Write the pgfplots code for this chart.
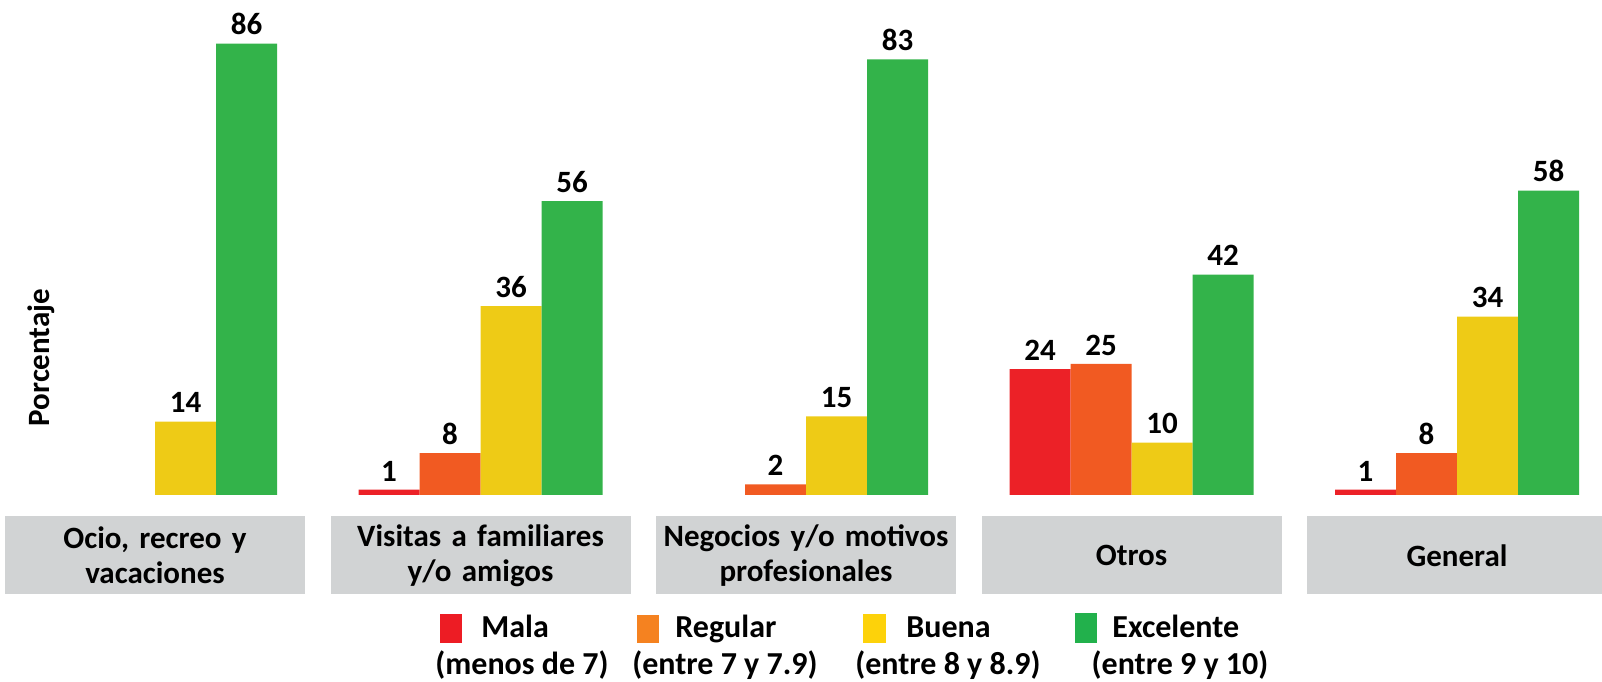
\documentclass[border=0pt]{standalone}
\usepackage{fontspec}
\setmainfont{Carlito}
\usepackage{pgfplots}
\pgfplotsset{compat=1.18}
\definecolor{cMala}{RGB}{236,33,39}
\definecolor{cRegular}{RGB}{241,90,34}
\definecolor{cBuena}{RGB}{238,203,22}
\definecolor{cExcelente}{RGB}{51,179,74}
\definecolor{lMala}{RGB}{237,28,36}
\definecolor{lRegular}{RGB}{245,130,32}
\definecolor{lBuena}{RGB}{253,210,10}
\definecolor{lExcelente}{RGB}{34,177,76}
\definecolor{boxgray}{RGB}{209,211,212}
\begin{document}
\begin{tikzpicture}
\begin{axis}[
  at={(0pt,0pt)}, anchor=north west,
  scale only axis, width=801pt, height=247.5pt,
  xmin=-0.4762, xmax=4.4455, ymin=0, ymax=94.29,
  ybar, bar width=30.5pt,
  axis line style={draw=none},
  ytick=\empty,
  xtick={0,1,2,3,4},
  xticklabels={{Ocio, recreo y\\vacaciones},{Visitas a familiares\\y/o amigos},{Negocios y/o motivos\\profesionales},{Otros},{General}},
  major tick length=0pt,
  xticklabel style={fill=boxgray, text width=150pt, minimum height=39pt, align=center, inner sep=0pt, anchor=north, yshift=-10.5pt, font=\bfseries\fontsize{15.5}{17.5}\selectfont},
  /pgf/number format/assume math mode=true,
  nodes near coords,
  every node near coord/.append style={font=\bfseries\fontsize{15.5}{18}\selectfont, anchor=base, yshift=4.3pt, text=black},
  clip=false,
]
\addplot[fill=cMala, draw=none, bar shift=-45.75pt] coordinates {(1,1) (3,24) (4,1)};
\addplot[fill=cRegular, draw=none, bar shift=-15.25pt] coordinates {(1,8) (2,2) (3,25) (4,8)};
\addplot[fill=cBuena, draw=none, bar shift=15.25pt] coordinates {(0,14) (1,36) (2,15) (3,10) (4,34)};
\addplot[fill=cExcelente, draw=none, bar shift=45.75pt] coordinates {(0,86) (1,56) (2,83) (3,42) (4,58)};
\end{axis}
\begin{scope}[x=0.5pt, y=-0.5pt, font=\bfseries\fontsize{16}{19}\selectfont]
  \node[rotate=90, anchor=base, font=\bfseries\fontsize{15.5}{18}\selectfont] at (49,357.5) {Porcentaje};
  \fill[lMala] (440,614) rectangle (462,643);
  \node[anchor=base west, inner sep=0pt] at (481,637) {Mala};
  \node[anchor=base, inner sep=0pt] at (522,674) {(menos de 7)};
  \fill[lRegular] (637,615) rectangle (659,643);
  \node[anchor=base west, inner sep=0pt] at (675,637) {Regular};
  \node[anchor=base, inner sep=0pt] at (725,674) {(entre 7 y 7.9)};
  \fill[lBuena] (863,614) rectangle (886,643);
  \node[anchor=base west, inner sep=0pt] at (906,637) {Buena};
  \node[anchor=base, inner sep=0pt] at (948,674) {(entre 8 y 8.9)};
  \fill[lExcelente] (1075,613) rectangle (1097,643);
  \node[anchor=base west, inner sep=0pt] at (1112,637) {Excelente};
  \node[anchor=base, inner sep=0pt] at (1180,674) {(entre 9 y 10)};
  \pgfresetboundingbox
  \useasboundingbox (0,0) rectangle (1602,681);
\end{scope}
\end{tikzpicture}
\end{document}
